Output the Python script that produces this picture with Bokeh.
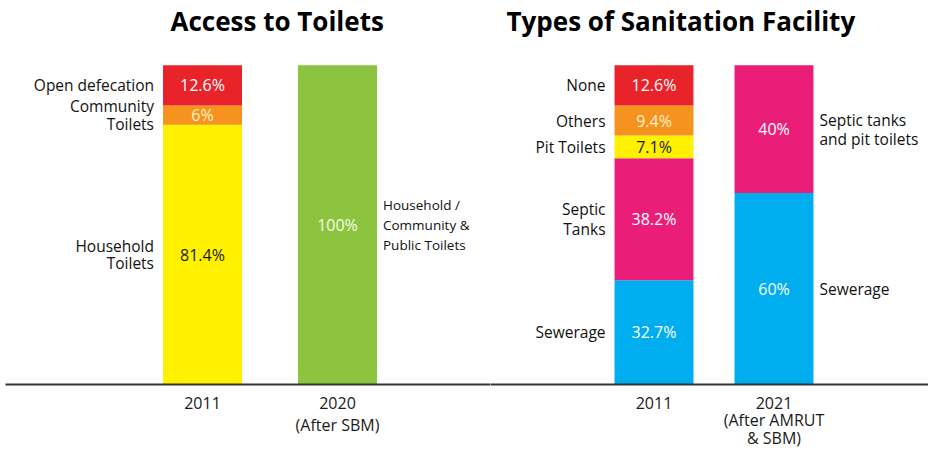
from bokeh.plotting import figure
from bokeh.models import ColumnDataSource, Range1d, FixedTicker
from bokeh.layouts import row
from bokeh.embed import file_html
from bokeh.resources import INLINE
from bokeh.core.properties import value

# ---------------- data ----------------
access_title = "Access to Toilets"
access_years = ["2011", "2020\n(After SBM)"]
access_2011_labels = ["Household\nToilets", "Community\nToilets", "Open defecation"]
access_2011_values = [81.4, 6, 12.6]
access_2020_labels = ["Household /\nCommunity &\nPublic Toilets"]
access_2020_values = [100]

types_title = "Types of Sanitation Facility"
types_years = ["2011", "2021\n(After AMRUT\n& SBM)"]
types_2011_labels = ["Sewerage", "Septic\nTanks", "Pit Toilets", "Others", "None"]
types_2011_values = [32.7, 38.2, 7.1, 9.4, 12.6]
types_2021_labels = ["Sewerage", "Septic tanks\nand pit toilets"]
types_2021_values = [60, 40]

# ---------------- styles ----------------
RED, ORANGE, YELLOW = "#E8232A", "#F6921E", "#FFF100"
GREEN, PINK, BLUE = "#8CC43F", "#EA1E79", "#00AEEF"
access_2011_colors = [YELLOW, ORANGE, RED]
access_2020_colors = [GREEN]
types_2011_colors = [BLUE, PINK, YELLOW, ORANGE, RED]
types_2021_colors = [BLUE, PINK]
TEXT_ON = {YELLOW: "#1a1a1a", ORANGE: "#FFF3C8", RED: "white", GREEN: "#F4FBEA",
           PINK: "white", BLUE: "white"}

FONT = "Open Sans"
TOP = 36
YMAX = (384 - TOP) / 321 * 100
H = 452


def fmt(v):
    return f"{v:g}%"


def panel(title, years, stacks, colors, sides, lab_sizes, lab_lh, width,
          min_left, x_start, x_end, bar_w, title_offset, tick_lh):
    p = figure(width=width, height=H, x_range=Range1d(x_start, x_end),
               y_range=Range1d(0, YMAX), output_backend="svg",
               toolbar_location=None, min_border_left=min_left,
               min_border_right=0, min_border_top=TOP, min_border_bottom=68)
    bars = dict(x=[], bottom=[], top=[], color=[], mid=[], vtext=[], vcolor=[])
    for i, ((labels, values), cols, side, fs, lh) in enumerate(
            zip(stacks, colors, sides, lab_sizes, lab_lh)):
        base = 0.0
        lab = dict(x=[], y=[], text=[])
        for name, v, c in zip(labels, values, cols):
            bars["x"].append(i)
            bars["bottom"].append(base)
            bars["top"].append(base + v)
            bars["color"].append(c)
            bars["mid"].append(base + v / 2)
            bars["vtext"].append(fmt(v))
            bars["vcolor"].append(TEXT_ON[c])
            lab["x"].append(i - bar_w / 2 if side == "left" else i + bar_w / 2)
            lab["y"].append(base + v / 2)
            lab["text"].append(name)
            base += v
        p.text(x="x", y="y", text="text", source=ColumnDataSource(lab),
               text_align="right" if side == "left" else "left",
               text_baseline="middle",
               x_offset=-9 if side == "left" else 6,
               text_font=value(FONT), text_font_size=fs,
               text_color="#111111", text_line_height=lh)
    src = ColumnDataSource(bars)
    p.vbar(x="x", bottom="bottom", top="top", width=bar_w, color="color",
           line_color=None, source=src, level="underlay")
    p.text(x="x", y="mid", text="vtext", text_color="vcolor", source=src,
           text_align="center", text_baseline="middle", text_font=value(FONT),
           text_font_size="16px")

    p.title.text = title
    p.title.align = "left"
    p.title.offset = title_offset
    p.title.text_font = FONT
    p.title.text_font_size = "26px"
    p.title.text_font_style = "bold"
    p.title.text_color = "#000000"
    p.title.standoff = 0

    p.yaxis.visible = False
    p.xgrid.visible = False
    p.ygrid.visible = False
    p.outline_line_color = None
    ax = p.xaxis[0]
    ax.ticker = FixedTicker(ticks=list(range(len(years))))
    ax.major_label_overrides = {i: y for i, y in enumerate(years)}
    ax.major_tick_line_color = None
    ax.major_tick_out = 0
    ax.major_tick_in = 0
    ax.minor_tick_line_color = None
    ax.axis_line_color = "#333333"
    ax.axis_line_width = 2
    ax.major_label_standoff = 7
    ax.major_label_text_font = FONT
    ax.major_label_text_font_size = "16px"
    ax.major_label_text_line_height = tick_lh
    ax.major_label_text_color = "#1a1a1a"
    return p


p1 = panel(access_title, access_years,
           [(access_2011_labels, access_2011_values),
            (access_2020_labels, access_2020_values)],
           [access_2011_colors, access_2020_colors], ["left", "right"],
           ["15.5px", "13.5px"], [0.8, 1.1],
           490, 5, -1.4593, 2.1333, 0.585, 165, 1.0)
p2 = panel(types_title, types_years,
           [(types_2011_labels, types_2011_values),
            (types_2021_labels, types_2021_values)],
           [types_2011_colors, types_2021_colors], ["left", "right"],
           ["15.5px", "15.5px"], [0.9, 0.85],
           438, 0, -1.3625, 2.2875, 0.658, 16, 0.8)

layout = row(p1, p2, spacing=0)
open("out.html", "w").write(file_html(layout, INLINE))
